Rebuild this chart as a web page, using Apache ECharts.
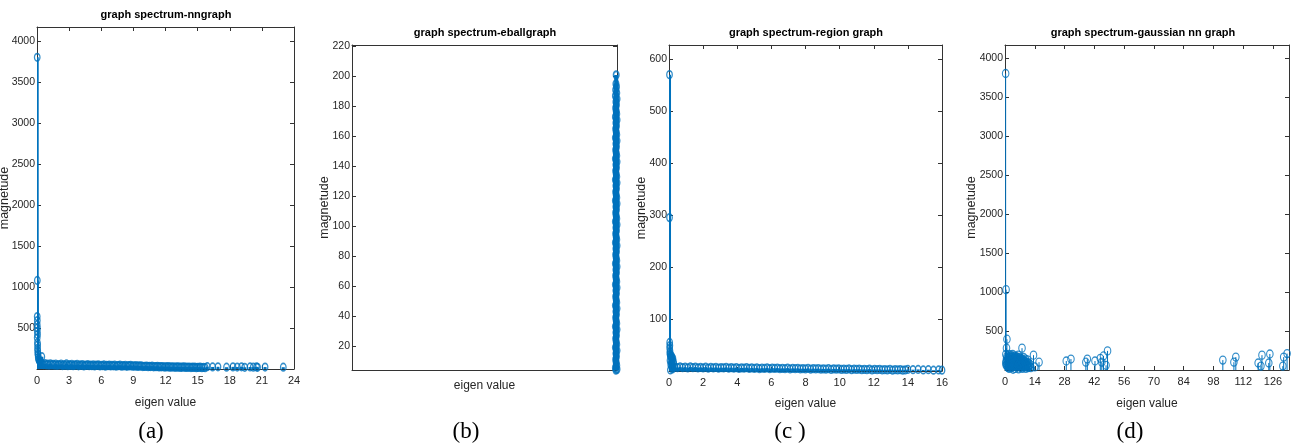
<!DOCTYPE html>
<html><head><meta charset="utf-8">
<script src="https://cdn.jsdelivr.net/npm/echarts@6/dist/echarts.min.js"></script>
<style>html,body{margin:0;padding:0;background:#fff}#c{width:1293px;height:447px}</style>
</head><body><div id="c"></div>
<script>
// ---------------- data ----------------
const titles = ['graph spectrum-nngraph','graph spectrum-eballgraph','graph spectrum-region graph','graph spectrum-gaussian nn graph'];
const captions = ['(a)','(b)','(c )','(d)'];
const xName = 'eigen value';
const yName = 'magnetude';

const aXTicks = [0,3,6,9,12,15,18,21,24];
const aYTicks = [500,1000,1500,2000,2500,3000,3500,4000];
const bXTicks = [];
const bYTicks = [20,40,60,80,100,120,140,160,180,200,220];
const cXTicks = [0,2,4,6,8,10,12,14,16];
const cYTicks = [100,200,300,400,500,600];
const dXTicks = [0,14,28,42,56,70,84,98,112,126];
const dYTicks = [500,1000,1500,2000,2500,3000,3500,4000];

const aXRange = [0,24],   aYRange = [0,4170];
const bXRange = [0,100],  bYRange = [4,221];
const cXRange = [0,16],   cYRange = [0,627];
const dXRange = [0,133.5],dYRange = [0,4165];

const aData = [[0.02,3800],[0.03,1080],[0.02,640],[0.03,590],[0.02,540],[0.04,500],[0.03,460],[0.05,420],[0.02,380],[0.04,320],[0.06,290],[0.05,250],[0.07,220],[0.08,190],[0.1,170],[0.45,150],[0.12,140],[0.15,120],[0.2,105],[0.25,95],[0.3,85],[0.35,75],[0.4,70],
[0.5,62],[0.62,52],[0.75,66],[0.88,49],[1.0,58],[1.12,47],[1.25,63],[1.38,50],[1.5,55],[1.62,46],[1.75,60],[1.88,44],[2.0,54],[2.12,48],[2.25,58],[2.38,42],[2.5,52],[2.62,45],[2.75,61],[2.88,40],[3.0,53],[3.12,44],[3.25,57],[3.38,41],[3.5,50],[3.62,46],[3.75,55],[3.88,39],[4.0,49],[4.12,43],[4.25,54],[4.38,38],[4.5,48],[4.62,44],[4.75,52],[4.88,40],[5.0,47],[5.12,41],[5.25,51],[5.38,37],[5.5,46],[5.62,43],[5.75,50],[5.88,38],[6.0,45],[6.12,40],[6.25,49],[6.38,35],[6.5,44],[6.62,41],[6.75,48],[6.88,37],[7.0,43],[7.12,39],[7.25,47],[7.38,34],[7.5,42],[7.62,40],[7.75,46],[7.88,35],[8.0,41],[8.12,37],[8.25,45],[8.38,33],[8.5,40],[8.62,38],[8.75,44],[8.88,34],[9.0,39],[9.12,35],[9.25,41],[9.38,31],[9.5,37],[9.62,35],[9.75,38],[9.88,30],[10.0,33],[10.12,31],[10.25,36],[10.38,28],[10.5,32],[10.62,30],[10.75,34],[10.88,27],[11.0,30],[11.12,28],[11.25,32],[11.38,25],[11.5,29],[11.62,27],[11.75,30],[11.88,24],[12.0,27],[12.12,25],[12.25,29],[12.38,22],[12.5,26],[12.62,24],[12.75,27],[12.88,21],[13.0,25],[13.12,23],[13.25,26],[13.38,20],[13.5,24],[13.62,22],[13.75,25],[13.88,19],[14.0,23],[14.12,21],[14.25,24],[14.38,18],[14.5,22],[14.62,20],[14.75,23],[14.88,17],[15.0,21],[15.12,19],[15.25,22],[15.4,16],[15.55,20],[15.7,17],
[15.9,28],[16.4,25],[16.9,27],[17.7,22],[18.3,26],[18.7,24],[19.1,27],[19.4,21],[19.9,25],[20.2,23],[20.5,26],[20.6,21],[21.3,24],[23.0,22]];

const bData = [[99.7,201],[99.6,195],[99.8,193],[99.5,191],[99.9,189],[99.4,187],[100,185],[99.6,183],[99.8,181],[99.5,179],[99.7,177],[99.9,175],[99.4,173],[100,171],[99.6,169],[99.8,167],[99.5,165],[99.7,163],[99.9,161],[99.4,159],[100,157],[99.6,155],[99.8,153],[99.5,151],[99.7,149],[99.9,147],[99.4,145],[100,143],[99.6,141],[99.8,139],[99.5,137],[99.7,135],[99.9,133],[99.4,131],[100,129],[99.6,127],[99.8,125],[99.5,123],[99.7,121],[99.9,119],[99.4,117],[100,115],[99.6,113],[99.8,111],[99.5,109],[99.7,107],[99.9,105],[99.4,103],[100,101],[99.6,99],[99.8,97],[99.5,95],[99.7,93],[99.9,91],[99.4,89],[100,87],[99.6,85],[99.8,83],[99.5,81],[99.7,79],[99.9,77],[99.4,75],[100,73],[99.6,71],[99.8,69],[99.5,67],[99.7,65],[99.9,63],[99.4,61],[100,59],[99.6,57],[99.8,55],[99.5,53],[99.7,51],[99.9,49],[99.4,47],[100,45],[99.6,43],[99.8,41],[99.5,39],[99.7,37],[99.9,35],[99.4,33],[100,31],[99.6,29],[99.8,27],[99.5,25],[99.7,23],[99.9,21],[99.4,19],[100,17],[99.6,15],[99.8,13],[99.5,11],[99.7,9],[99.9,7],[99.4,5.5],[100,4.5],[99.6,4]];

const cData = [[0.03,570],[0.03,295],[0.04,55],[0.05,49],[0.04,44],[0.06,38],[0.05,34],[0.07,31],[0.09,29],[0.11,27],[0.13,30],[0.16,24],[0.18,27],[0.2,21],[0.23,24],[0.26,18],[0.28,14],[0.06,20],[0.1,12],[0.15,8],[0.2,4],[0.08,2],[0.12,16],[0.22,10],[0.25,6],
[0.35,8],[0.5,6.5],[0.65,8],[0.8,6.5],[0.95,7.5],[1.1,6],[1.25,8],[1.4,6.5],[1.55,7.5],[1.7,6],[1.85,7],[2.0,6],[2.15,7.5],[2.3,5.5],[2.45,7],[2.6,6],[2.75,7],[2.9,5.5],[3.05,6.5],[3.2,6],[3.35,7],[3.5,5.5],[3.65,6.5],[3.8,5.5],[3.95,6.5],[4.1,5],[4.25,6],[4.4,5.5],[4.55,6.5],[4.7,5],[4.85,6],[5.0,5],[5.15,6],[5.3,4.5],[5.45,5.5],[5.6,5],[5.75,6],[5.9,4.5],[6.05,5.5],[6.2,5],[6.35,5.5],[6.5,4.5],[6.65,5],[6.8,4.5],[6.95,5.5],[7.1,4],[7.25,5],[7.4,4.5],[7.55,5],[7.7,4],[7.85,4.5],[8.0,4],[8.15,5],[8.3,3.5],[8.45,4.5],[8.6,4],[8.75,4.5],[8.9,3.5],[9.05,4],[9.2,3.5],[9.35,4.5],[9.5,3],[9.65,4],[9.8,3.5],[9.95,4],[10.1,3],[10.25,3.5],[10.4,3],[10.55,4],[10.7,2.5],[10.85,3.5],[11.0,3],[11.15,3.5],[11.3,2.5],[11.45,3],[11.6,2.5],[11.75,3.5],[11.9,2],[12.05,3],[12.2,2.5],[12.35,3],[12.5,2],[12.65,2.5],[12.8,2],[12.95,3],[13.1,1.5],[13.25,2.5],[13.4,2],[13.55,2.5],[13.7,1.5],[13.85,2],
[14.0,3],[14.3,2.5],[14.6,3],[14.9,2],[15.2,2.5],[15.5,1.5],[15.8,2],[16.0,1.5]];

const dData = [[0.3,3800],[0.5,1030],[0.9,395],[0.7,280],[0.4,200],[0.6,120],[0.8,60],[1.0,180],[1.2,40],[1.4,150],[1.6,90],[1.8,200],[2.0,20],[2.2,170],[2.4,110],[2.6,60],[2.8,190],[3.0,30],[3.2,160],[3.4,80],[3.6,200],[3.8,10],[4.0,150],[4.2,100],[4.4,50],[4.6,180],[4.8,20],[5.0,140],[5.2,90],[5.4,170],[5.6,40],[5.8,130],[6.0,70],[6.2,190],[6.4,15],[6.6,120],[6.8,160],[7.0,50],[7.2,110],[7.4,30],[7.6,150],[7.8,80],[8.0,280],[8.2,20],[8.4,130],[8.6,60],[8.8,160],[9.0,40],[9.2,110],[9.4,70],[9.6,140],[9.8,20],[10.0,100],[10.3,60],[10.6,130],[10.9,30],[11.2,90],[11.5,50],[11.8,70],[12.2,30],[13.4,190],[14.0,40],[16.0,100],
[0.35,90],[0.55,60],[0.75,150],[0.95,110],[1.1,70],[1.3,130],[1.5,30],[1.7,160],[1.9,100],[2.1,60],[2.3,140],[2.5,90],[2.7,120],[2.9,170],[3.1,70],[3.3,120],[3.5,40],[3.7,140],[3.9,90],[4.1,170],[4.3,60],[4.5,130],[4.7,100],[4.9,160],[5.1,60],[5.3,120],[5.5,150],[5.7,80],[5.9,160],[6.1,110],[6.3,60],[6.5,140],[6.7,80],[6.9,120],[7.1,90],[7.3,140],[7.5,60],[7.7,120],[7.9,100],[8.1,60],[8.3,110],[8.5,90],[8.7,40],[8.9,120],[9.1,80],[9.3,50],[9.5,90],[9.7,60],[9.9,80],[10.2,40],[10.5,70],[10.8,90],[11.1,40],
[28.8,115],[31.0,140],[38.0,100],[38.7,140],[42.3,115],[44.8,150],[45.5,100],[46.3,180],[47.5,60],[48.2,245],[102.4,127],[107.6,100],[108.5,165],[119.0,90],[120.3,50],[120.8,190],[124.0,90],[124.5,205],[130.6,50],[131.0,165],[132.6,210]];

// ---------------- layout / style ----------------
const BLUE = '#0072BD', AX = '#333333', TXT = '#262626';
const SANS = "'Liberation Sans',Arial,sans-serif";
const panels = [
  {grid:{left:37,top:27,width:257,height:342}, xr:aXRange, yr:aYRange, xt:aXTicks, yt:aYTicks, data:aData, xGap:28, yGap:25.5, sym:[5.5,7.5], stemW:3, ringW:1.5, clip:true, title:[166,15], cap:[151,432]},
  {grid:{left:352,top:45,width:265,height:325}, xr:bXRange, yr:bYRange, xt:bXTicks, yt:bYTicks, data:bData, xGap:10, yGap:21, sym:[5.5,7.5], stemW:4, ringW:1.8, clip:false, title:[485,33], cap:[466,432]},
  {grid:{left:669,top:45,width:273,height:326}, xr:cXRange, yr:cYRange, xt:cXTicks, yt:cYTicks, data:cData, xGap:27, yGap:21, sym:[5.5,7.5], stemW:3, ringW:1.5, clip:true, title:[806,33], cap:[790,432]},
  {grid:{left:1005,top:45,width:284,height:325}, xr:dXRange, yr:dYRange, xt:dXTicks, yt:dYTicks, data:dData, xGap:28, yGap:27, sym:[6.5,8], stemW:1, ringW:1.2, clip:true, title:[1143,33], cap:[1130,432]}
];

const grids = [], xAxes = [], yAxes = [], series = [], graphics = [];
function baseAxis(type, gi, range, ticks, pos, labels, name, gap){
  const isX = type === 'x';
  const a = {
    type:'value', gridIndex:gi, min:range[0], max:range[1], position:pos,
    axisLine:{show:true, onZero:false, lineStyle:{color:AX, width:1}},
    axisTick:{show:ticks.length>0, inside:true, length:4, customValues:ticks, lineStyle:{color:AX, width:1}},
    axisLabel:{show:labels && ticks.length>0, customValues:ticks, margin:isX?6:2, color:TXT, fontFamily:SANS, fontSize:isX?11:10.5, formatter:(v)=>String(v)},
    splitLine:{show:false}
  };
  if (name){
    a.name = name; a.nameLocation = 'middle'; a.nameGap = gap; a.nameMoveOverlap = false;
    a.nameTextStyle = isX ? {color:TXT, fontFamily:SANS, fontSize:12}
                          : {color:TXT, fontFamily:SANS, fontSize:12.5};
  }
  return a;
}
panels.forEach((p,i)=>{
  grids.push(Object.assign({containLabel:false, outerBoundsMode:'none'}, p.grid));
  xAxes.push(baseAxis('x', i, p.xr, p.xt, 'bottom', true, xName, p.xGap));
  xAxes.push(baseAxis('x', i, p.xr, p.xt, 'top', false));
  yAxes.push(baseAxis('y', i, p.yr, p.yt, 'left', true, yName, p.yGap));
  yAxes.push(baseAxis('y', i, p.yr, p.yt, 'right', false));
  const base = p.yr[0];
  series.push({
    type:'custom', xAxisIndex:2*i, yAxisIndex:2*i, data:p.data, silent:true, clip:p.clip,
    renderItem:(params, api)=>{
      const top = api.coord([api.value(0), api.value(1)]);
      const bot = api.coord([api.value(0), base]);
      return {type:'line', shape:{x1:top[0], y1:bot[1], x2:top[0], y2:top[1]}, style:{stroke:BLUE, lineWidth:p.stemW}};
    }
  });
  series.push({
    type:'scatter', xAxisIndex:2*i, yAxisIndex:2*i, data:p.data, silent:true, clip:false,
    symbol:'circle', symbolSize:p.sym,
    itemStyle:{color:'rgba(0,0,0,0)', borderColor:BLUE, borderWidth:p.ringW}
  });
  graphics.push({type:'text', x:p.title[0], y:p.title[1], style:{text:titles[i], font:"bold 11px "+SANS, fill:'#000', align:'center', verticalAlign:'middle'}});
  graphics.push({type:'text', x:p.cap[0], y:p.cap[1], style:{text:captions[i], font:"23px 'Liberation Serif','Times New Roman',serif", fill:'#000', align:'center', verticalAlign:'middle'}});
});

const chart = echarts.init(document.getElementById('c'), null, {renderer:'canvas'});
chart.setOption({
  animation:false, backgroundColor:'#fff',
  grid:grids, xAxis:xAxes, yAxis:yAxes, series:series, graphic:graphics
});
</script></body></html>
